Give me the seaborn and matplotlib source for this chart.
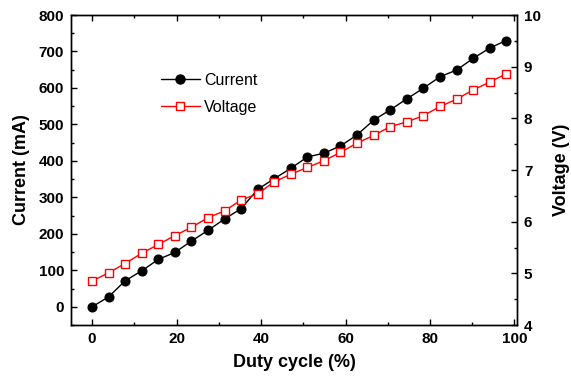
import seaborn as sns
import matplotlib.pyplot as plt
import pandas as pd
from matplotlib.ticker import MultipleLocator
from matplotlib.lines import Line2D

# duty cycle steps (10/255 each)
duty = [0, 3.9, 7.8, 11.8, 15.7, 19.6, 23.5, 27.5, 31.4, 35.3, 39.2, 43.1, 47.1,
        51.0, 54.9, 58.8, 62.7, 66.7, 70.6, 74.5, 78.4, 82.4, 86.3, 90.2, 94.1, 98.0]
current = [0, 27, 71, 99, 130, 149, 180, 210, 241, 269, 322, 351, 380,
           411, 421, 441, 471, 512, 540, 570, 599, 631, 649, 681, 709, 730]
voltage = [4.85, 5.01, 5.19, 5.39, 5.56, 5.73, 5.89, 6.08, 6.21, 6.42, 6.54, 6.77, 6.92,
           7.05, 7.18, 7.34, 7.52, 7.67, 7.84, 7.93, 8.05, 8.23, 8.37, 8.55, 8.70, 8.86]

df = pd.DataFrame({"duty": duty, "current": current, "voltage": voltage})

sns.set_style("ticks", {"axes.edgecolor": "black", "text.color": "black",
                        "axes.labelcolor": "black", "xtick.color": "black",
                        "ytick.color": "black"})
plt.rcParams['font.family'] = ['Liberation Sans', 'DejaVu Sans']

fig = plt.figure(figsize=(5.71, 3.82), dpi=100)
ax = fig.add_axes([0.1243, 0.1492, 0.7811, 0.8115])
ax2 = ax.twinx()

sns.lineplot(data=df, x="duty", y="current", ax=ax, color="black", lw=1,
             marker="o", markersize=6.5, markeredgecolor="black", markerfacecolor="black")
sns.lineplot(data=df, x="duty", y="voltage", ax=ax2, color="red", lw=1,
             marker="s", markersize=6, markeredgecolor="red", markerfacecolor="white",
             markeredgewidth=1)

ax.set_xlim(-5, 100.6)
ax.set_ylim(-50, 800)
ax2.set_ylim(4, 10)

ax.xaxis.set_major_locator(MultipleLocator(20))
ax.xaxis.set_minor_locator(MultipleLocator(10))
ax.yaxis.set_major_locator(MultipleLocator(100))
ax.yaxis.set_minor_locator(MultipleLocator(50))
ax2.yaxis.set_major_locator(MultipleLocator(1))
ax2.yaxis.set_minor_locator(MultipleLocator(0.5))

ax.tick_params(axis="both", which="both", direction="in", width=1, top=True,
               labelsize=11, pad=5, colors="black")
ax.tick_params(which="major", length=4)
ax.tick_params(which="minor", length=2.5)
ax2.tick_params(axis="y", which="both", direction="in", width=1, labelsize=11, pad=5,
                colors="black")
ax2.tick_params(which="major", length=4)
ax2.tick_params(which="minor", length=2.5)

for a in (ax, ax2):
    for lbl in a.get_xticklabels() + a.get_yticklabels():
        lbl.set_fontweight("bold")
    for s in a.spines.values():
        s.set_linewidth(1)
        s.set_color("black")
        s.set_visible(True)

ax.set_xlabel("Duty cycle (%)", fontsize=13, fontweight="bold", labelpad=6)
ax.set_ylabel("Current (mA)", fontsize=13, fontweight="bold", labelpad=6)
ax2.set_ylabel("Voltage (V)", fontsize=13, fontweight="bold", labelpad=9)

handles = [
    Line2D([], [], color="black", lw=1, marker="o", markersize=6.5),
    Line2D([], [], color="red", lw=1, marker="s", markersize=6,
           markerfacecolor="white", markeredgecolor="red"),
]
ax.legend(handles, ["Current", "Voltage"], loc="upper left",
          bbox_to_anchor=(0.17, 0.86), frameon=False, fontsize=11.5,
          handlelength=2.4, handletextpad=0.3, labelspacing=0.75)

fig.savefig("out.png", dpi=100)
